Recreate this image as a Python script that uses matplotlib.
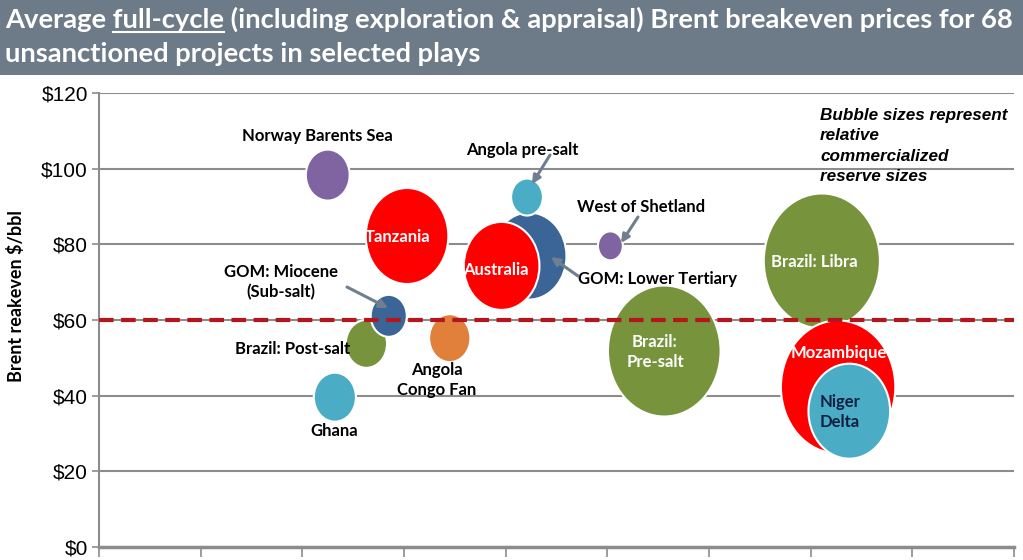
import matplotlib
matplotlib.use("Agg")
import matplotlib.pyplot as plt
from matplotlib.patches import Ellipse, Rectangle
from matplotlib.lines import Line2D

# plays, position on chart and bubble size (relative reserve)
plays = ["Norway Barents Sea", "Tanzania", "GOM: Lower Tertiary", "Australia",
         "Angola pre-salt", "West of Shetland", "Brazil: Post-salt",
         "GOM: Miocene (Sub-salt)", "Angola Congo Fan", "Ghana",
         "Brazil: Pre-salt", "Brazil: Libra", "Mozambique", "Niger Delta"]
x_pos = [2.25, 3.03, 4.23, 3.96, 4.21, 5.03, 2.63, 2.85, 3.45, 2.32, 5.56, 7.11, 7.27, 7.38]
breakeven = [98.3, 82.2, 76.9, 74.3, 92.5, 79.6, 53.7, 61.1, 55.2, 39.6, 51.8, 75.6, 42.3, 35.9]
reserve = [51, 96, 87, 88, 37, 29, 48, 42, 48, 49, 131, 135, 133, 95]
colors = ["#8064a2", "#ff0000", "#3b6597", "#ff0000", "#4bacc6", "#8064a2", "#77933c",
          "#3b6597", "#e0803a", "#4bacc6", "#77933c", "#77933c", "#ff0000", "#4bacc6"]

yticks = [0, 20, 40, 60, 80, 100, 120]
ytick_labels = ["$0", "$20", "$40", "$60", "$80", "$100", "$120"]
threshold = 60

W, H = 1023, 560
fig = plt.figure(figsize=(W / 100, H / 100), dpi=100)
fig.patch.set_facecolor("white")

# title band
fig.patches.append(Rectangle((0, 1 - 75 / H), 1, 75 / H, transform=fig.transFigure,
                             facecolor="#6d7a88", edgecolor="none", zorder=0))
tfont = dict(family=["Lato", "DejaVu Sans"], fontsize=19.7, fontweight="bold", color="white")
line1 = "Average full-cycle (including exploration & appraisal) Brent breakeven prices for 68"
t1 = fig.text(5 / W, 1 - 19 / H, line1, ha="left", va="center", **tfont)
fig.text(5 / W, 1 - 54 / H, "unsanctioned projects in selected plays", ha="left", va="center", **tfont)

# underline "full-cycle"
fig.canvas.draw()
r = fig.canvas.get_renderer()
ta = fig.text(5 / W, 1 - 19 / H, "Average full-cycle", ha="left", va="center", **tfont)
tb = fig.text(5 / W, 1 - 19 / H, "full-cycle", ha="left", va="center", **tfont)
ea = ta.get_window_extent(r)
eb = tb.get_window_extent(r)
ta.remove()
tb.remove()
x1 = ea.x1 / W
x0 = (ea.x1 - eb.width) / W
yu = 1 - 32 / H
fig.lines.append(Line2D([x0, x1], [yu, yu], transform=fig.transFigure, color="white", lw=1.5))

# axes
left, right, top, bottom = 99, 1014, 93, 547
ax = fig.add_axes([left / W, 1 - bottom / H, (right - left) / W, (bottom - top) / H])
ax.set_xlim(0, 9)
ax.set_ylim(0, 120)
ax.set_xticks(range(10))
ax.set_xticklabels([])
ax.set_yticks(yticks)
ax.set_yticklabels(ytick_labels, family=["Liberation Sans", "DejaVu Sans"], fontsize=15)
for yv in yticks[1:]:
    ax.axhline(yv, color="#8c8c8c", lw=1.5, zorder=1)
for s in ["top", "right"]:
    ax.spines[s].set_visible(False)
ax.spines["left"].set_color("#8c8c8c")
ax.spines["left"].set_linewidth(1.5)
ax.spines["bottom"].set_color("#8c8c8c")
ax.spines["bottom"].set_linewidth(2.5)
ax.tick_params(axis="both", colors="#8c8c8c", length=5, width=1.2, labelcolor="black", pad=3)
ax.tick_params(axis="x", length=7)
ax.axhline(threshold, color="#b5161b", lw=3, ls=(0, (3.5, 1.8)), zorder=5)

# bubbles as ellipses (pixel sized)
px_x = (right - left) / 9
px_y = (bottom - top) / 120
for xv, yv, sz, c in zip(x_pos, breakeven, reserve, colors):
    ax.add_patch(Ellipse((xv, yv), sz * 0.86 / px_x, sz / px_y, facecolor=c,
                         edgecolor="white", lw=1.5, zorder=3))

fig.text(16 / W, 1 - 296 / H, "Brent reakeven $/bbl", rotation=90, ha="center", va="center",
         family=["Lato", "DejaVu Sans"], fontsize=13, fontweight="bold")

def px(xp, yp):
    return ((xp - left) / px_x, (bottom - yp) / px_y)

lfont = dict(family=["Lato", "DejaVu Sans"], fontsize=12, fontweight="bold", ha="center", va="center",
             linespacing=1.3, zorder=6)
dark_labels = [("Norway Barents Sea", 317, 136), ("Angola pre-salt", 522, 150),
               ("West of Shetland", 641, 207), ("GOM: Lower Tertiary", 657, 279),
               ("GOM: Miocene\n(Sub-salt)", 281, 282), ("Brazil: Post-salt", 293, 349),
               ("Angola\nCongo Fan", 437, 380), ("Ghana", 334, 431)]
for txt, xp, yp in dark_labels:
    ax.text(*px(xp, yp), txt, color="black", **lfont)
white_labels = [("Tanzania", 398, 237), ("Australia", 496, 270), ("Brazil: Libra", 814, 262),
                ("Brazil:\nPre-salt", 655, 352), ("Mozambique", 839, 353)]
for txt, xp, yp in white_labels:
    ax.text(*px(xp, yp), txt, color="white", **lfont)
ax.text(*px(840, 412), "Niger\nDelta", color="#0f1f3f", **lfont)

# arrows
arrows = [((550, 155), (532, 184)), ((578, 276), (551, 257)),
          ((638, 217), (621, 243)), ((347, 287), (388, 308))]
for (tx, ty), (hx, hy) in arrows:
    ax.annotate("", xy=px(hx, hy), xytext=px(tx, ty),
                arrowprops=dict(arrowstyle="-|>", color="#6f7f8f", lw=2.2,
                                mutation_scale=12, shrinkA=0, shrinkB=0), zorder=6)

ax.text(*px(820, 108), "Bubble sizes represent\nrelative\ncommercialized\nreserve sizes",
        ha="left", va="top", family=["Liberation Sans", "DejaVu Sans"], fontsize=12.3,
        fontweight="bold", style="italic", linespacing=1.45, zorder=6)

fig.savefig("out.png", dpi=100)
